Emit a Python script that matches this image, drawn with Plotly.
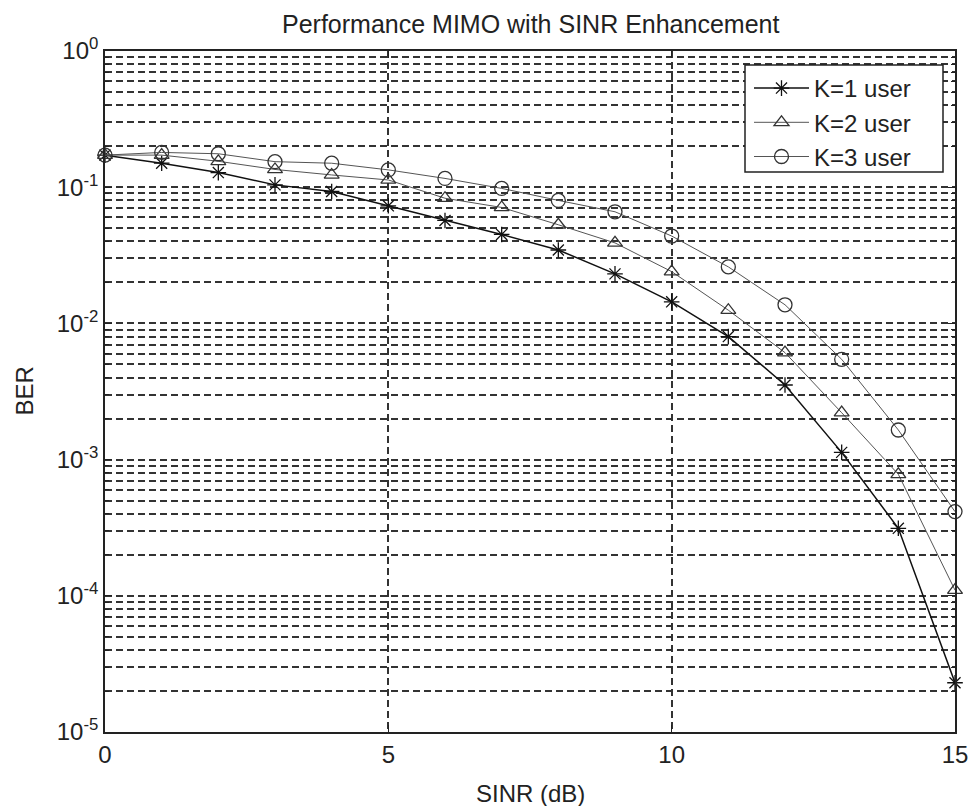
import plotly.graph_objects as go

sinr_db = list(range(0, 16))
ber_k1 = [0.172, 0.150, 0.128, 0.104, 0.093, 0.073, 0.057, 0.045, 0.0346, 0.0231,
          0.0144, 0.0080, 0.00353, 0.00113, 0.000313, 0.000023]
ber_k2 = [0.172, 0.172, 0.155, 0.135, 0.123, 0.113, 0.083, 0.071, 0.053, 0.039,
          0.024, 0.0125, 0.0061, 0.00221, 0.00078, 0.000110]
ber_k3 = [0.172, 0.180, 0.176, 0.154, 0.150, 0.134, 0.116, 0.098, 0.080, 0.066,
          0.0438, 0.026, 0.0137, 0.00545, 0.00165, 0.000415]
series_names = ["K=1 user", "K=2 user", "K=3 user"]

title_text = "Performance MIMO with SINR Enhancement"
x_title = "SINR (dB)"
y_title = "BER"
x_ticks = [0, 5, 10, 15]
y_exponents = [-5, -4, -3, -2, -1, 0]

FONT = "Liberation Sans, Arial, sans-serif"
INK = "#222"

W, H = 970, 806
ML, MR, MT, MB = 105, 15, 51, 74
PW, PH = W - ML - MR, H - MT - MB


def px_x(p):
    return (p - ML) / PW


def px_y(p):
    return (H - MB - p) / PH


fig = go.Figure()
styles = [
    dict(symbol="asterisk-open", size=13, color="#111", lw=1.5, lc="#111"),
    dict(symbol="triangle-up-open", size=13, color="#333", lw=1.0, lc="#555"),
    dict(symbol="circle-open", size=14, color="#333", lw=1.0, lc="#555"),
]
for name, ys, st in zip(series_names, [ber_k1, ber_k2, ber_k3], styles):
    fig.add_trace(go.Scatter(
        x=sinr_db, y=ys, name=name, mode="lines+markers", cliponaxis=False,
        line=dict(color=st["lc"], width=st["lw"]),
        marker=dict(symbol=st["symbol"], size=st["size"],
                    color=st["color"], line=dict(color=st["color"], width=1.3)),
    ))

major_y = [10.0 ** e for e in y_exponents]
major_text = ["10<sup>%d</sup>" % e for e in y_exponents]
minor_y = [m * 10.0 ** e for e in y_exponents[:-1] for m in range(2, 10)]

GRID = dict(gridcolor="#333", griddash="7px,4px", gridwidth=1.5)

fig.update_layout(
    width=W, height=H,
    paper_bgcolor="white", plot_bgcolor="white",
    margin=dict(l=ML, r=MR, t=MT, b=MB),
    font=dict(family=FONT, size=24, color=INK),
    showlegend=True,
    legend=dict(x=px_x(749), xanchor="left", y=px_y(66), yanchor="top",
                bgcolor="rgba(0,0,0,0)", borderwidth=0,
                font=dict(family=FONT, size=24, color=INK),
                itemwidth=55, tracegroupgap=0),
    shapes=[
        dict(type="rect", xref="paper", yref="paper",
             x0=px_x(745), x1=px_x(943), y0=px_y(172), y1=px_y(65),
             fillcolor="white", line=dict(color=INK, width=1.5), layer="above"),
    ],
    annotations=[
        dict(text=title_text, xref="paper", yref="paper", x=0.5, y=px_y(24),
             xanchor="center", yanchor="middle", showarrow=False,
             font=dict(family=FONT, size=25, color=INK)),
        dict(text=x_title, xref="paper", yref="paper", x=px_x(530), y=px_y(793),
             xanchor="center", yanchor="middle", showarrow=False,
             font=dict(family=FONT, size=24, color=INK)),
        dict(text=y_title, xref="paper", yref="paper", x=px_x(24), y=0.5,
             xanchor="center", yanchor="middle", showarrow=False, textangle=-90,
             font=dict(family=FONT, size=24, color=INK)),
    ],
)
fig.update_xaxes(
    range=[0, 15], tickvals=x_ticks, ticktext=[str(t) for t in x_ticks],
    showgrid=True, **GRID,
    showline=True, linecolor=INK, linewidth=1.6, mirror="ticks",
    ticks="inside", ticklen=7, tickcolor=INK,
    zeroline=False, automargin=False,
    tickfont=dict(family=FONT, size=24, color=INK),
)
fig.update_yaxes(
    type="log", range=[-5, 0], tickvals=major_y, ticktext=major_text,
    showgrid=True, **GRID,
    minor=dict(tickvals=minor_y, showgrid=True, ticks="inside", ticklen=4,
               tickcolor=INK, **GRID),
    showline=True, linecolor=INK, linewidth=1.6, mirror="ticks",
    ticks="inside", ticklen=7, tickcolor=INK,
    zeroline=False, automargin=False,
    tickfont=dict(family=FONT, size=24, color=INK),
)

fig.write_html("out.html", config={"displayModeBar": False},
               post_script="document.body.style.margin='0';document.body.style.overflow='hidden';")
